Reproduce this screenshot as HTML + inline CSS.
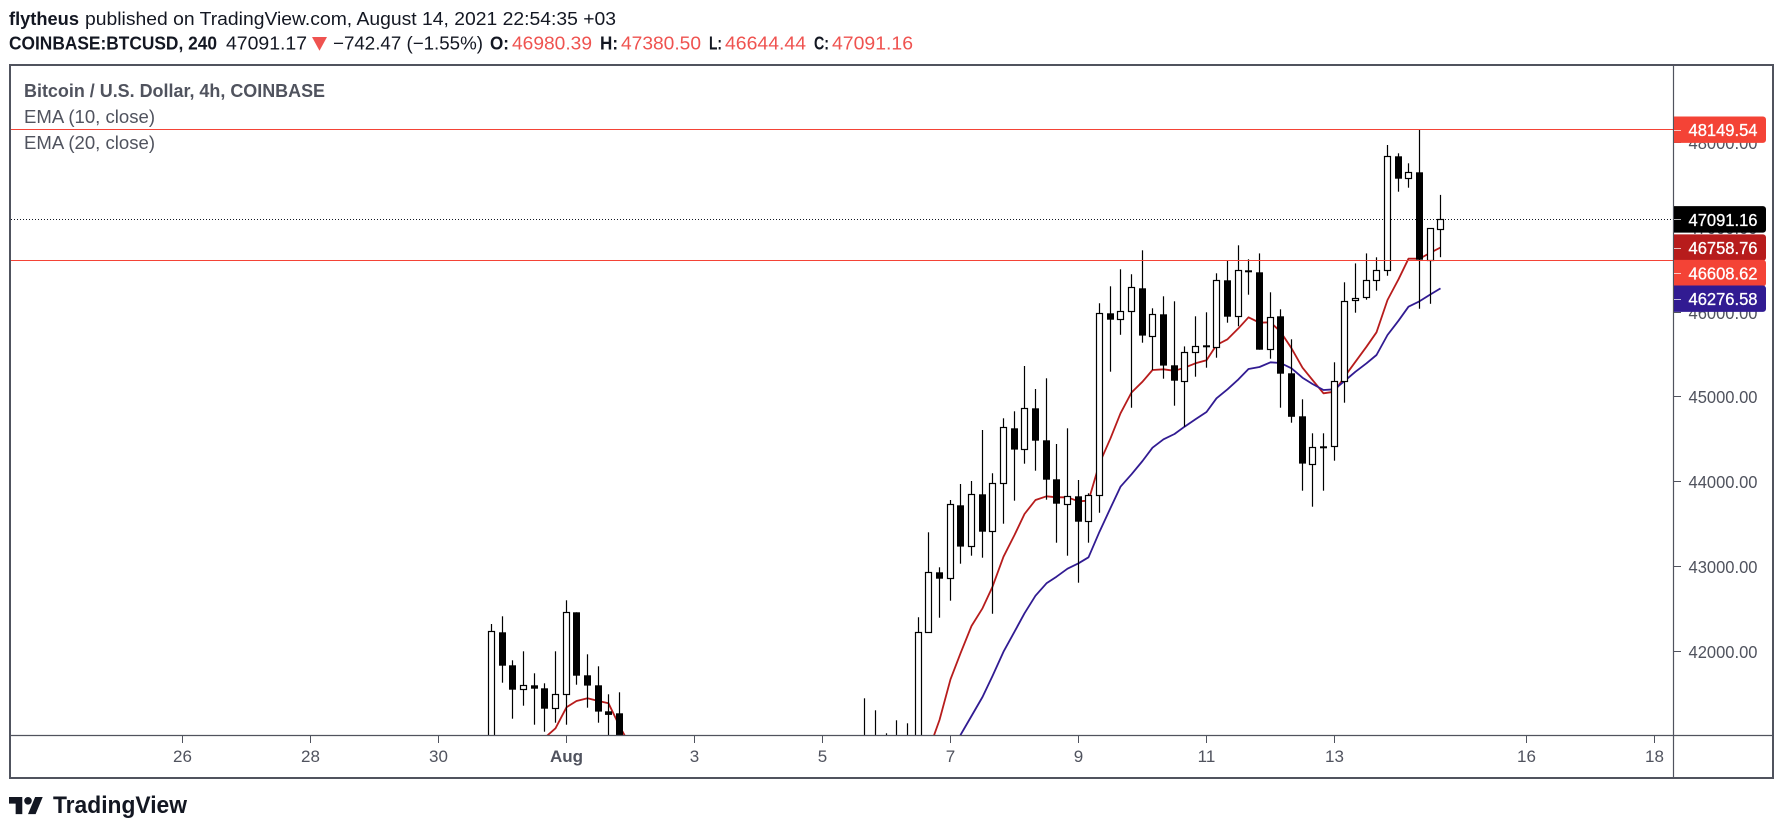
<!DOCTYPE html>
<html lang="en">
<head>
<meta charset="utf-8">
<title>BTCUSD 4h chart</title>
<style>
html,body{margin:0;padding:0;background:#fff;width:1783px;height:833px;overflow:hidden}
svg{display:block;font-family:"Liberation Sans",sans-serif}
</style>
</head>
<body>
<svg id="chart" xmlns="http://www.w3.org/2000/svg" width="1783" height="833" viewBox="0 0 1783 833">
  <rect x="0" y="0" width="1783" height="833" fill="#ffffff"/>
  <g font-size="18.5">
    <text x="9" y="25" font-weight="bold" fill="#131722" textLength="70" lengthAdjust="spacingAndGlyphs">flytheus</text>
    <text x="85" y="25" fill="#131722" textLength="531" lengthAdjust="spacingAndGlyphs">published on TradingView.com, August 14, 2021 22:54:35 +03</text>
    <text x="9" y="49.5" font-weight="bold" fill="#131722" textLength="208" lengthAdjust="spacingAndGlyphs">COINBASE:BTCUSD, 240</text>
    <text x="226" y="49.5" fill="#131722" textLength="81" lengthAdjust="spacingAndGlyphs">47091.17</text>
    <polygon points="312,37 327,37 319.5,50.7" fill="#ef5350"/>
    <text x="333" y="49.5" fill="#131722" textLength="150" lengthAdjust="spacingAndGlyphs">−742.47 (−1.55%)</text>
    <text x="490" y="49.5" font-weight="bold" fill="#131722" textLength="19" lengthAdjust="spacingAndGlyphs">O:</text>
    <text x="512" y="49.5" fill="#ef5350" textLength="80" lengthAdjust="spacingAndGlyphs">46980.39</text>
    <text x="600" y="49.5" font-weight="bold" fill="#131722" textLength="18" lengthAdjust="spacingAndGlyphs">H:</text>
    <text x="621" y="49.5" fill="#ef5350" textLength="80" lengthAdjust="spacingAndGlyphs">47380.50</text>
    <text x="709" y="49.5" font-weight="bold" fill="#131722" textLength="13" lengthAdjust="spacingAndGlyphs">L:</text>
    <text x="725" y="49.5" fill="#ef5350" textLength="81" lengthAdjust="spacingAndGlyphs">46644.44</text>
    <text x="814" y="49.5" font-weight="bold" fill="#131722" textLength="15" lengthAdjust="spacingAndGlyphs">C:</text>
    <text x="832" y="49.5" fill="#ef5350" textLength="81" lengthAdjust="spacingAndGlyphs">47091.16</text>
  </g>
  <defs>
    <clipPath id="plot-clip"><rect x="11" y="66" width="1662.5" height="669"/></clipPath>
  </defs>
  <g id="plot" clip-path="url(#plot-clip)"></g>
  <g id="hlines"></g>
  <g id="xaxis"></g>
  <g id="yaxis"></g>
  <line x1="11" x2="1773" y1="735.5" y2="735.5" stroke="#50535e" stroke-width="1.2"/>
  <line x1="1673.5" x2="1673.5" y1="65" y2="777" stroke="#50535e" stroke-width="1.2"/>
  <rect x="10" y="65" width="1763" height="713" fill="none" stroke="#50535e" stroke-width="2"/>
  <g id="axislabels"></g>
  <g font-size="18">
    <text x="24" y="97" font-weight="bold" fill="#50535e" textLength="301" lengthAdjust="spacingAndGlyphs">Bitcoin / U.S. Dollar, 4h, COINBASE</text>
    <text x="24" y="123" fill="#50535e" textLength="131" lengthAdjust="spacingAndGlyphs">EMA (10, close)</text>
    <text x="24" y="149" fill="#50535e" textLength="131" lengthAdjust="spacingAndGlyphs">EMA (20, close)</text>
  </g>
  <g>
    <g transform="translate(9,793.2) scale(0.95)" fill="#131722">
      <path d="M14 22H7V11H0V4h14v18zM28 22h-8l7.5-18h8L28 22z"/>
      <circle cx="20" cy="8" r="4"/>
    </g>
    <text x="53" y="813" font-size="24" font-weight="bold" fill="#131722" textLength="134" lengthAdjust="spacingAndGlyphs">TradingView</text>
  </g>
</svg>
<script>
// Candle 0 is Jul 31 ~ 20:00, one candle every 4 hours. null = candle entirely below the visible axis.
const firstCandleOffset = -7;
const opens = [40500,42216,41826,41543,41590,41555,41319,41484,42452,41708,41590,41283,41260,
 null,null,null,null,null,null,null,null,null,null,null,null,null,null,null,null,null,null,null,null,null,null,
 40500,40400,40700,40600,40800,
 40900,42216,42924,42854,43715,43231,43845,43408,43975,44624,
 44376,44861,44483,44022,43727,43822,43526,43833,45982,45911,
 46006,46277,45718,45970,45368,45179,45522,45604,45581,46372,
 45947,46490,46466,45557,45947,45274,44766,44207,44412,44412,
 45179,46136,46171,46372,46490,47836,47576,47647,46608,46980.39];
const highs = [42314,42405,41885,41992,41732,41614,41992,42594,42452,41956,41815,41484,41508,
 null,null,null,null,null,null,null,null,null,null,null,null,null,null,null,null,null,null,null,null,null,null,
 41437,41295,41024,41177,41142,
 42393,43397,42983,43778,43967,44002,44604,44093,44743,44825,
 45360,45088,45215,44439,44624,44014,43857,46100,46301,46502,
 46443,46726,46041,46183,46124,45592,45947,45994,46454,46600,
 46785,46620,46690,46230,46029,45675,44967,44565,44565,45404,
 46348,46572,46690,46643,47969,47871,47753,48149.54,46986,47380.5];
const lows = [40300,41621,41196,41349,41125,41043,41149,41125,41597,41326,41149,40900,40500,
 null,null,null,null,null,null,null,null,null,null,null,null,null,null,null,null,null,null,null,null,null,null,
 40300,40200,40500,40400,40600,
 40700,42216,42388,42589,43026,43120,43097,42436,43498,43770,
 44207,44124,43781,43274,43120,42802,43274,43628,45293,45729,
 44868,45635,45313,45210,44891,44643,45234,45340,45458,45871,
 45829,46202,45552,45446,44868,44691,43888,43699,43888,44242,
 44927,45989,46143,46249,46426,47418,47465,46036,46095,46644.44];
const closes = [42228,41822,41538,41590,41550,41314,41484,42452,41704,41586,41279,41240,40800,
 null,null,null,null,null,null,null,null,null,null,null,null,null,null,null,null,null,null,null,null,null,null,
 40400,40700,40600,40800,40900,
 42216,42924,42849,43727,43227,43845,43404,43975,44636,44372,
 44861,44478,44018,43734,43822,43522,43833,45982,45907,46006,
 46289,45718,45970,45364,45186,45522,45592,45581,46372,45942,
 46490,46466,45552,45942,45269,44761,44207,44400,44395,45179,
 46124,46166,46372,46490,47836,47571,47647,46615,46986,47091.16];
const ema10 = [null,null,null,null,null,
 40968,41083,41331,41405,41437,41405,41378,41110,40874,
 null,null,null,null,null,null,null,null,null,null,null,null,null,null,null,null,null,null,null,null,null,null,null,null,null,null,null,
 40817,41181,41661,41968,42290,42499,42754,43109,43365,43613,
 43778,43822,43810,43810,43763,43770,44211,44506,44802,45047,
 45175,45313,45321,45304,45340,45392,45427,45608,45675,45805,
 45935,45871,45876,45765,45569,45340,45195,45038,45057,45234,
 45411,45588,45758,46139,46384,46627,46627,46698,46758.76];
const ema20 = [null,null,null,null,null,null,null,null,null,null,null,null,null,null,null,null,null,null,null,null,null,
 null,null,null,null,null,null,null,null,null,null,null,null,null,null,null,null,null,null,null,null,null,null,
 40770,41004,41228,41452,41700,41987,42223,42440,42648,42794,
 42872,42967,43031,43101,43404,43683,43935,44081,44238,44395,
 44495,44557,44643,44731,44817,44979,45085,45203,45325,45348,
 45404,45395,45333,45222,45147,45077,45085,45183,45293,45392,
 45490,45726,45895,46060,46124,46206,46276.58];
const priceTicks = [48000,47000,46000,45000,44000,43000,42000];
const horizontalLevels = [48149.54,46608.62];
const lastClose = 47091.16;
const dayTickLabels = ["26","28","30","Aug","3","5","7","9","11","13","16","18"];
const dayTickOffsets = [-6,-4,-2,0,2,4,6,8,10,12,15,17];
const badgeValues = [48149.54,47091.16,46758.76,46608.62,46276.58];
const badgeColors = ["#f44336","#000000","#b71c1c","#f44336","#311b92"];

const SVGNS = "http://www.w3.org/2000/svg";
const candlesPerDay = 6, pxPerCandle = 32 / 3, originX = 566;
function xIndex(i){ return Math.floor(originX + i * pxPerCandle + 0.001) + 0.5; }
function xScale(n){ return xIndex(n + firstCandleOffset); }
function yScale(p){ return 735.3 - (p - 41000) * 0.0847; }
function mk(tag, parent, attrs, text){
  const el = document.createElementNS(SVGNS, tag);
  for (const k in attrs) el.setAttribute(k, attrs[k]);
  if (text !== undefined) el.textContent = text;
  parent.appendChild(el);
  return el;
}
const plot = document.getElementById("plot");
const hlines = document.getElementById("hlines");
const xaxis = document.getElementById("xaxis");
const yaxis = document.getElementById("yaxis");
const axislabels = document.getElementById("axislabels");

// dotted last-price line (under candles)
const lastLine = mk("line", plot, {x1:11, x2:1673, y1:Math.floor(yScale(lastClose))+0.5, y2:Math.floor(yScale(lastClose))+0.5, stroke:"#131722", "stroke-width":1, "stroke-dasharray":"1 2"});



// EMA lines (under candles)
function emaPath(values){
  let d = "", pen = false;
  values.forEach(function(v, n){
    if (v === null) { pen = false; return; }
    d += (pen ? "L" : "M") + xScale(n) + " " + yScale(v).toFixed(1);
    pen = true;
  });
  return d;
}
const ema10Line = mk("path", plot, {d:emaPath(ema10), fill:"none", stroke:"#b71c1c", "stroke-width":1.8, "stroke-linejoin":"round"});


const ema20Line = mk("path", plot, {d:emaPath(ema20), fill:"none", stroke:"#311b92", "stroke-width":1.8, "stroke-linejoin":"round"});



// candles
opens.forEach(function(o, n){
  if (o === null) return;
  const c = closes[n], h = highs[n], l = lows[n], x = xScale(n);
  const group = mk("g", plot, {});
  
  
  const wick = mk("line", group, {x1:x, x2:x, y1:yScale(h).toFixed(1), y2:yScale(l).toFixed(1), stroke:"#000", "stroke-width":1.2});
  
  
  const top = yScale(Math.max(o, c)), bot = yScale(Math.min(o, c));
  const down = c < o;
  const body = mk("rect", group, down
    ? {x:x-3.5, y:top.toFixed(1), width:7, height:Math.max(bot-top, 2).toFixed(1), fill:"#000"}
    : {x:x-3, y:Math.round(top)+0.5, width:6, height:Math.max(Math.round(bot)-Math.round(top), 2), fill:"#fff", stroke:"#000", "stroke-width":1.2});
  
  
});

// horizontal levels
horizontalLevels.forEach(function(p){
  const y = Math.floor(yScale(p)) + 0.5;
  const ln = mk("line", hlines, {x1:11, x2:1673, y1:y, y2:y, stroke:"#f44336", "stroke-width":1});
  
  
});

// time axis
dayTickLabels.forEach(function(label, k){
  const x = Math.floor(originX + dayTickOffsets[k] * candlesPerDay * pxPerCandle + 0.001) + 0.5;
  const t = mk("line", xaxis, {x1:x, x2:x, y1:735, y2:743, stroke:"#50535e", "stroke-width":1});
  
  
  const tx = mk("text", xaxis, {x:x, y:762, "text-anchor":"middle", "font-size":17, fill:"#50535e", "font-weight":label === "Aug" ? "bold" : "normal"}, label);
  
  
});

// price axis
priceTicks.forEach(function(p){
  const y = Math.round(yScale(p)) + 0.5;
  const t = mk("line", yaxis, {x1:1674, x2:1681, y1:y, y2:y, stroke:"#50535e", "stroke-width":1});
  
  
  const tx = mk("text", yaxis, {x:1688.5, y:y+6.5, "font-size":17.5, fill:"#50535e", textLength:69, lengthAdjust:"spacingAndGlyphs"}, p.toFixed(2));
  
  
});

// price badges, pushed apart so they never overlap
let prevCentre = -100;
badgeValues.forEach(function(v, k){
  const centre = Math.max(yScale(v), prevCentre + 25.6);
  prevCentre = centre;
  const h = 26.4;
  const r = mk("path", axislabels, {d:"M1674 "+(centre-h/2)+"H1763a3 3 0 0 1 3 3V"+(centre+h/2-3)+"a3 3 0 0 1 -3 3H1674Z", fill:badgeColors[k]});
  
  
  const t = mk("line", axislabels, {x1:1674, x2:1681, y1:Math.round(centre)+0.5, y2:Math.round(centre)+0.5, stroke:"#ffffff", "stroke-opacity":0.7, "stroke-width":1});
  
  
  const tx = mk("text", axislabels, {x:1688.5, y:centre+6.5, "font-size":17.5, fill:"#ffffff", stroke:"#ffffff", "stroke-width":0.3, textLength:69, lengthAdjust:"spacingAndGlyphs"}, v.toFixed(2));
  
  
});
</script>
</body>
</html>
